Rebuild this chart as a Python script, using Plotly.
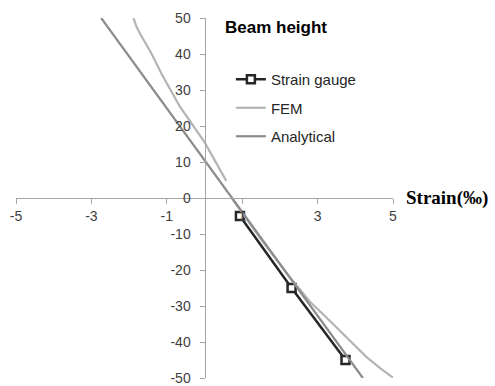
import plotly.graph_objects as go

# Data
gauge_x = [0.94, 2.31, 3.74]
gauge_y = [-5, -25, -45]

fem_x = [-1.90, -1.80, -1.70, -1.40, -1.14, -0.66, 0.00, 0.58, None,
         0.72, 1.50, 2.30, 2.80, 3.41, 3.85, 4.30, 4.70, 5.05]
fem_y = [50.5, 47.5, 45.5, 40.0, 34.5, 25.5, 15.5, 4.7, None,
         0.0, -11.5, -22.5, -28.8, -35.0, -39.6, -44.2, -47.6, -50.3]

ana_x = [-2.74, 4.20]
ana_y = [50, -50]

x_ticks = [-5, -3, -1, 1, 3, 5]
x_labels = ["-5", "-3", "-1", "1", "3", "5"]
y_ticks = [-50, -40, -30, -20, -10, 0, 10, 20, 30, 40, 50]
y_labels = ["-50", "-40", "-30", "-20", "-10", "0", "10", "20", "30", "40", "50"]

fig = go.Figure()
fig.add_trace(go.Scatter(x=gauge_x, y=gauge_y, name="Strain gauge", mode="lines+markers",
                         legendgroup="a",
                         line=dict(color="#262626", width=2.5),
                         marker=dict(symbol="square", size=8, color="white",
                                     line=dict(color="#262626", width=2.5))))
fig.add_trace(go.Scatter(x=fem_x, y=fem_y, name="FEM", mode="lines", legendgroup="b",
                         connectgaps=False,
                         line=dict(color="#b4b4b4", width=2.2)))
fig.add_trace(go.Scatter(x=ana_x, y=ana_y, name="Analytical", mode="lines", legendgroup="c",
                         line=dict(color="#8c8c8c", width=2.2)))

axis_font = dict(family="Liberation Sans, Arial, sans-serif", size=14, color="#404040")
fig.update_layout(
    width=495, height=386,
    margin=dict(l=16, r=102, t=18, b=8, autoexpand=False),
    paper_bgcolor="white", plot_bgcolor="white",
    showlegend=True,
    legend=dict(x=0.57, y=0.875, xanchor="left", yanchor="top",
                font=dict(family="Liberation Sans, Arial, sans-serif", size=15, color="#262626"),
                tracegroupgap=6, bgcolor="rgba(0,0,0,0)"),
    xaxis=dict(range=[-5, 5], tickvals=x_ticks, ticktext=x_labels, anchor="free", position=0.5,
               showline=True, linecolor="#a6a6a6", linewidth=1,
               ticks="outside", ticklen=5, tickcolor="#a6a6a6",
               ticklabeloverflow="allow", automargin=False,
               showgrid=False, zeroline=False, tickfont=axis_font),
    yaxis=dict(range=[-50, 50], tickvals=y_ticks, ticktext=y_labels, anchor="free", position=0.5,
               showline=True, linecolor="#a6a6a6", linewidth=1,
               ticks="outside", ticklen=5, tickcolor="#a6a6a6",
               ticklabeloverflow="allow", ticklabelstandoff=6, automargin=False,
               showgrid=False, zeroline=False, tickfont=axis_font),
    annotations=[
        dict(text="<b>Beam height</b>", xref="paper", yref="paper", x=0.55, y=0.975,
             xanchor="left", yanchor="middle", showarrow=False,
             font=dict(family="Liberation Sans, Arial, sans-serif", size=17, color="#000000")),
        dict(text="<b>Strain(‰)</b>", xref="paper", yref="paper", x=1.03, y=0.5,
             xanchor="left", yanchor="middle", showarrow=False,
             font=dict(family="Liberation Serif, Times New Roman, serif", size=19, color="#000000")),
    ],
)

fig.write_html("out.html")
